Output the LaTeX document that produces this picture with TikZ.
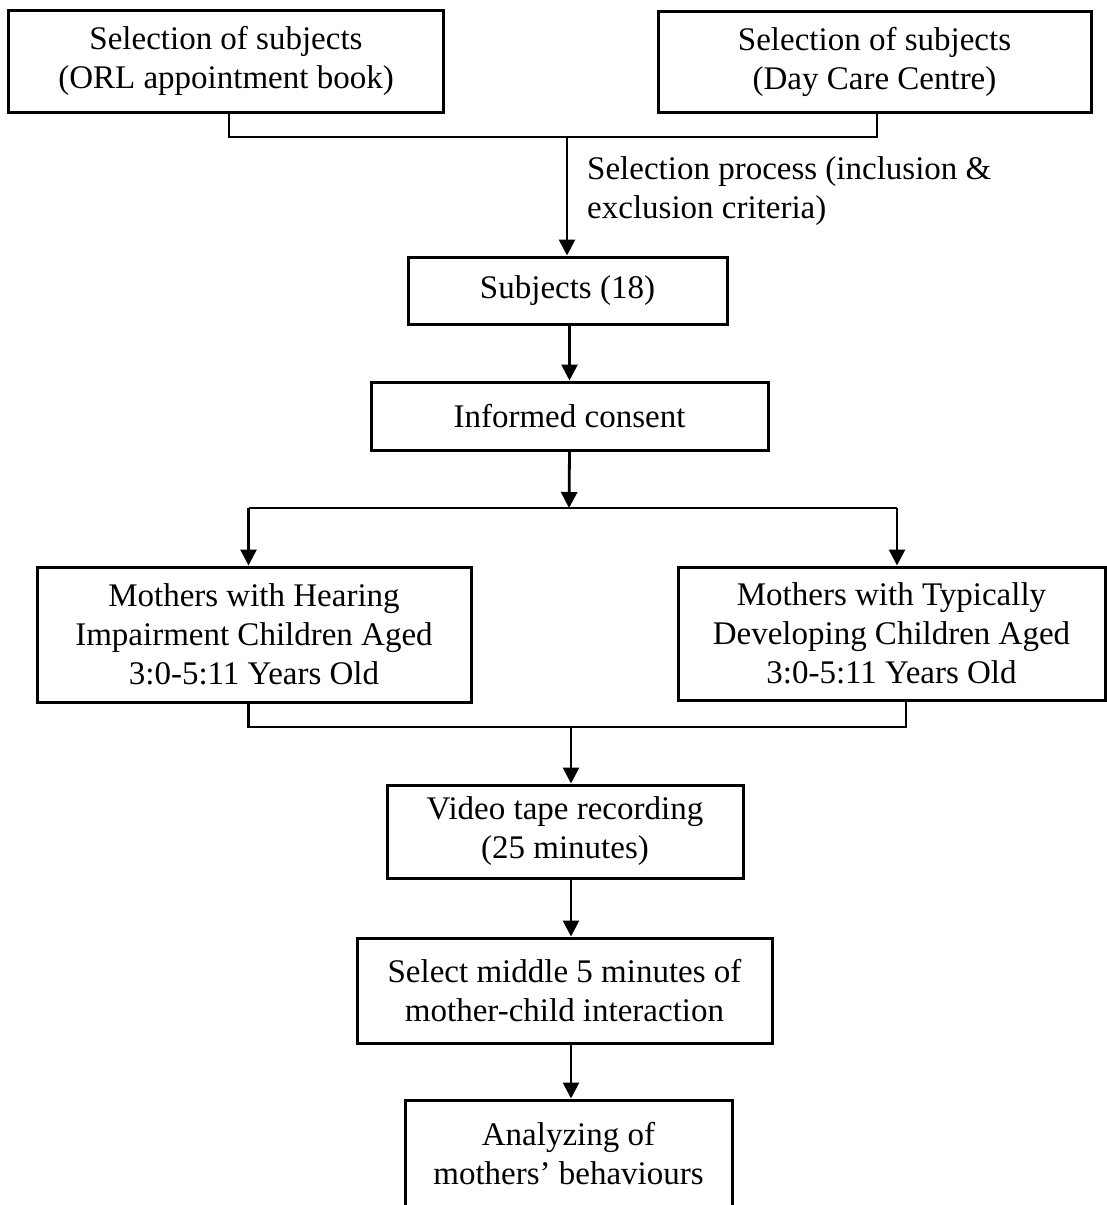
\documentclass[tikz,border=0pt]{standalone}
\usepackage{fontspec}
\setmainfont{Liberation Serif}
\usetikzlibrary{arrows.meta}
\begin{document}
\begin{tikzpicture}[x=1pt,y=-1pt,
  box/.style={draw=black,line width=3pt,rectangle,align=center,inner sep=0pt,
    font=\fontsize{33}{39}\selectfont},
  lbl/.style={align=left,inner sep=0pt,font=\fontsize{33}{39}\selectfont},
  conn/.style={line width=2.8pt},
  arr/.style={line width=2.8pt,-{Triangle[length=16pt,width=16pt]}}]
\clip (0,0) rectangle (1107,1205);
\fill[white] (0,0) rectangle (1107,1205);
% boxes
\node[box,minimum width=435pt,minimum height=102pt] (A) at (226,61) {Selection of subjects\\(ORL appointment book)};
\node[box,minimum width=433pt,minimum height=101pt] (B) at (874.5,61.5) {Selection of subjects\\(Day Care Centre)};
\node[lbl,anchor=west] (L) at (587,191) {Selection process (inclusion \&\\exclusion criteria)};
\node[box,minimum width=319pt,minimum height=67pt] (S) at (567.5,290.5) {Subjects (18)};
\node[box,minimum width=397pt,minimum height=68pt] (IC) at (569.5,416) {Informed consent};
\node[box,minimum width=434pt,minimum height=135pt] (HI) at (254,634.5) {Mothers with Hearing\\Impairment Children Aged\\3:0-5:11 Years Old};
\node[box,minimum width=427pt,minimum height=133pt] (TD) at (891.5,633.5) {Mothers with Typically\\Developing Children Aged\\3:0-5:11 Years Old};
\node[box,minimum width=356pt,minimum height=93pt] (V) at (565,831.5) {Video tape recording\\(25 minutes)};
\node[box,minimum width=415pt,minimum height=105pt] (Sel) at (564.5,990.5) {Select middle 5 minutes of\\mother-child interaction};
\node[box,minimum width=327pt,minimum height=108pt] (An) at (568.5,1154) {Analyzing of\\mothers’ behaviours};
% junction coordinates
\coordinate (aL) at (229,112);
\coordinate (aR) at (877,112);
\coordinate (j1) at (567,137);
\coordinate (j2) at (569,508);
\coordinate (hL) at (248.5,508);
\coordinate (hR) at (897,508);
\coordinate (bL) at (248.5,702);
\coordinate (bR) at (906,702);
\coordinate (j3) at (571,727);
% connectors
\draw[conn] (aL) -- (aL |- j1) -- (aR |- j1) -- (aR);
\draw[arr] (j1) -- (j1 |- S.north);
\draw[arr] (S.south -| IC.north) -- (IC.north);
\draw[arr] (IC.south) -- (j2);
\draw[conn] (hL) -- (hR);
\draw[arr] (hL) -- (hL |- HI.north);
\draw[arr] (hR) -- (hR |- TD.north);
\draw[conn] (bL) -- (bL |- j3) -- (bR |- j3) -- (bR);
\draw[arr] (j3) -- (j3 |- V.north);
\draw[arr] (V.south -| j3) -- (Sel.north -| j3);
\draw[arr] (Sel.south -| j3) -- (An.north -| j3);
\end{tikzpicture}
\end{document}
